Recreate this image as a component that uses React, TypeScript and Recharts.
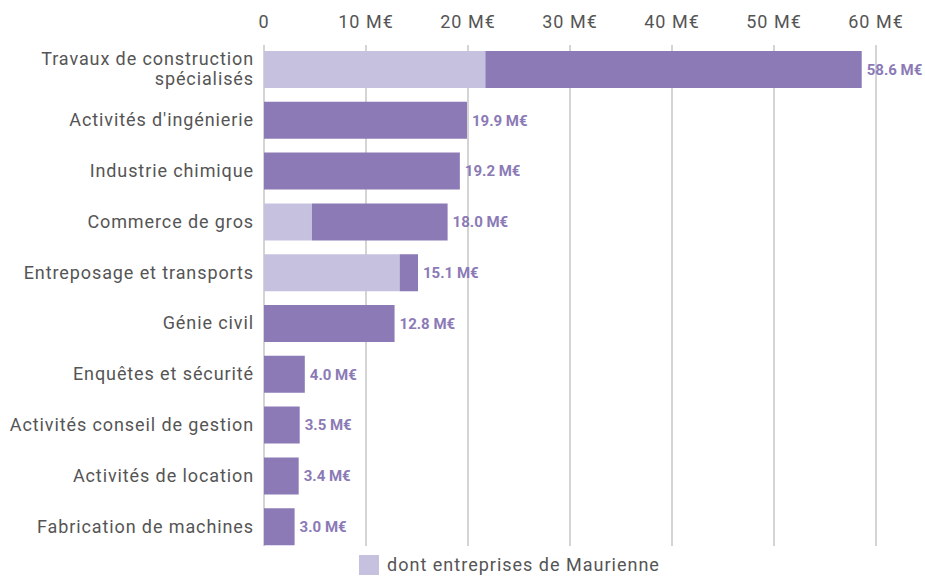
import { Bar, BarChart, CartesianGrid, LabelList, Legend, XAxis, YAxis } from "recharts";

const categories = [
  "Travaux de construction\nspécialisés",
  "Activités d'ingénierie",
  "Industrie chimique",
  "Commerce de gros",
  "Entreposage et transports",
  "Génie civil",
  "Enquêtes et sécurité",
  "Activités conseil de gestion",
  "Activités de location",
  "Fabrication de machines",
];

// total amount per sector (M€)
const totals = [58.6, 19.9, 19.2, 18.0, 15.1, 12.8, 4.0, 3.5, 3.4, 3.0];
// part going to Maurienne companies (M€), estimated from the bars
const maurienne = [21.7, 0, 0, 4.7, 13.3, 0, 0, 0, 0, 0];

const xTicks = [0, 10, 20, 30, 40, 50, 60];

const DARK = "#8b7ab6";
const LIGHT = "#c7c1e0";
const TEXT = "#555555";
const FONT = "Roboto, 'DejaVu Sans', sans-serif";

const data = categories.map((name, i) => ({
  name,
  total: totals[i],
  maurienne: maurienne[i],
  rest: +(totals[i] - maurienne[i]).toFixed(1),
}));

const CategoryTick = ({ x, y, payload }: any) => {
  const lines = String(payload.value).split("\n");
  const start = -((lines.length - 1) * 20) / 2;
  return (
    <text x={x} y={y} textAnchor="end" fill={TEXT} fontSize={18} fontFamily={FONT} letterSpacing={0.9}>
      {lines.map((line, i) => (
        <tspan key={i} x={x} dy={i === 0 ? start + 6 : 20}>
          {line}
        </tspan>
      ))}
    </text>
  );
};

// grid lines stop a bit above the bottom of the bar area, like the original
const GridLine = (props: any) => (
  <line
    key={props.key}
    x1={props.x1}
    x2={props.x2}
    y1={props.y1 + 1}
    y2={props.y2 - 6}
    stroke="#d4d4d4"
    strokeWidth={2}
  />
);

const LegendContent = () => (
  <div style={{ display: "flex", alignItems: "center", justifyContent: "center", paddingLeft: 143, paddingTop: 2 }}>
    <span style={{ width: 20, height: 20, background: LIGHT, display: "inline-block", marginRight: 8 }} />
    <span style={{ fontFamily: FONT, fontSize: 18, color: TEXT, letterSpacing: 1 }}>
      dont entreprises de Maurienne
    </span>
  </div>
);

const App = () => (
  <div style={{ position: "absolute", left: 0, top: 0 }}>
    <BarChart
      width={925}
      height={576}
      data={data}
      layout="vertical"
      margin={{ top: 0, right: 49, left: 0, bottom: 0 }}
      barSize={37}
    >
      <CartesianGrid horizontal={false} vertical={GridLine} />
      <XAxis
        type="number"
        orientation="top"
        domain={[0, 60]}
        ticks={xTicks}
        height={44}
        tickLine={false}
        axisLine={false}
        tickMargin={10}
        tick={{ fill: TEXT, fontSize: 18, fontFamily: FONT, letterSpacing: 1 }}
        tickFormatter={(v: number) => (v === 0 ? "0" : `${v} M€`)}
      />
      <YAxis
        type="category"
        dataKey="name"
        width={264}
        tickLine={false}
        axisLine={false}
        tickMargin={4}
        tick={<CategoryTick />}
        interval={0}
      />
      <Legend verticalAlign="bottom" height={24} content={<LegendContent />} />
      <Bar dataKey="maurienne" stackId="a" fill={LIGHT} isAnimationActive={false} />
      <Bar dataKey="rest" stackId="a" fill={DARK} isAnimationActive={false}>
        <LabelList
          dataKey="total"
          position="right"
          offset={5}
          fill={DARK}
          fontSize={15}
          fontWeight="bold"
          fontFamily={FONT}
          formatter={(v: any) => `${Number(v).toFixed(1)} M€`}
        />
      </Bar>
    </BarChart>
  </div>
);

export default App;
